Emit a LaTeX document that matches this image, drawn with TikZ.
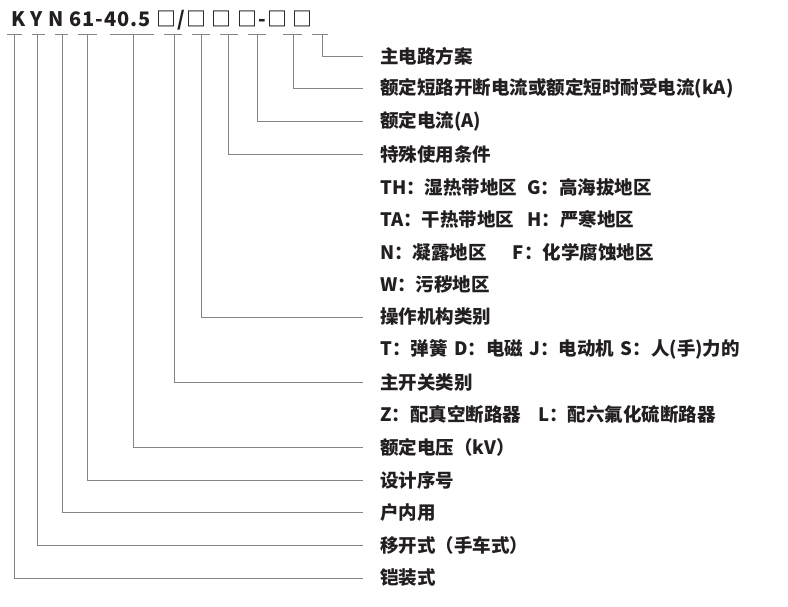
\documentclass[tikz,border=0pt]{standalone}
\usepackage{fontspec}
\setmainfont{Noto Sans CJK SC}
\newfontfamily\codefont{Noto Sans CJK SC}[LetterSpace=5]
\usetikzlibrary{positioning}
\definecolor{ctext}{HTML}{231F20}
\definecolor{cline}{HTML}{858585}
\tikzset{
  lab/.style={anchor=west, inner sep=0pt, text=ctext,
    font=\fontsize{18.5}{20}\selectfont\bfseries},
  code/.style={anchor=west, inner sep=0pt, text=ctext,
    font=\codefont\fontsize{20}{22}\selectfont\bfseries},
  uline/.style={draw=cline, line width=0.8pt},
  lead/.style={draw=cline, line width=0.8pt, shorten >=17pt},
}

\begin{document}
\begin{tikzpicture}[x=1pt, y=-1pt]
  \useasboundingbox (0,0) rectangle (788,607);

  % model code
  \node[code] (kyn) at (11,20) {K Y N 61-40.5 □/□ □ □-□ □};

  % tick points under the code
  \coordinate (u1) at (322,34); \coordinate (u2) at (293,34);
  \coordinate (u3) at (257,34); \coordinate (u4) at (228,34);
  \coordinate (u5) at (201,34); \coordinate (u6) at (174,34);
  \coordinate (u7) at (133,34); \coordinate (u8) at (87,34);
  \coordinate (u9) at (62,34);  \coordinate (u10) at (37,34);
  \coordinate (u11) at (14,34);

  \draw[uline] ([xshift=-10pt]u1) -- ([xshift=6pt]u1);
  \draw[uline] ([xshift=-10pt]u2) -- ([xshift=9pt]u2);
  \draw[uline] ([xshift=-9pt]u3) -- ([xshift=9pt]u3);
  \draw[uline] ([xshift=-8pt]u4) -- ([xshift=10pt]u4);
  \draw[uline] ([xshift=-9pt]u5) -- ([xshift=9pt]u5);
  \draw[uline] ([xshift=-10pt]u6) -- ([xshift=8pt]u6);
  \draw[uline] ([xshift=-23pt]u7) -- ([xshift=21pt]u7);
  \draw[uline] ([xshift=-9pt]u8) -- ([xshift=10pt]u8);
  \draw[uline] ([xshift=-7pt]u9) -- ([xshift=6pt]u9);
  \draw[uline] ([xshift=-5pt]u10) -- ([xshift=8pt]u10);
  \draw[uline] ([xshift=-7pt]u11) -- ([xshift=8pt]u11);

  % descriptions
  \node[lab] (l1) at (380,56) {主电路方案};
  \node[lab] (l2) at (380,88.6) {额定短路开断电流或额定短时耐受电流(kA)};
  \node[lab] (l3) at (380,121) {额定电流(A)};
  \node[lab] (l4) at (380,154) {特殊使用条件};
  \node[lab] (s1) at (380,187) {TH：湿热带地区\hspace{10pt}G：高海拔地区};
  \node[lab] (s2) at (380,219) {TA：干热带地区\hspace{13pt}H：严寒地区};
  \node[lab] (s3) at (380,252) {N：凝露地区\hspace{26pt}F：化学腐蚀地区};
  \node[lab] (s4) at (380,284) {W：污秽地区};
  \node[lab] (l5) at (380,317) {操作机构类别};
  \node[lab] (s5) at (380,349) {T：弹簧\hspace{6.5pt}D：电磁\hspace{6.5pt}J：电动机\hspace{6.5pt}S：人(手)力的};
  \node[lab] (l6) at (380,382) {主开关类别};
  \node[lab] (s6) at (380,414) {Z：配真空断路器\hspace{17pt}L：配六氟化硫断路器};
  \node[lab] (l7) at (380,447) {额定电压（kV）};
  \node[lab] (l8) at (380,480) {设计序号};
  \node[lab] (l9) at (380,512) {户内用};
  \node[lab] (l10) at (380,545) {移开式（手车式）};
  \node[lab] (l11) at (380,578) {铠装式};

  % leaders
  \draw[lead] (u1) |- (l1);  \draw[lead] (u2) |- (l2);
  \draw[lead] (u3) |- (l3);  \draw[lead] (u4) |- (l4);
  \draw[lead] (u5) |- (l5);  \draw[lead] (u6) |- (l6);
  \draw[lead] (u7) |- (l7);  \draw[lead] (u8) |- (l8);
  \draw[lead] (u9) |- (l9);  \draw[lead] (u10) |- (l10);
  \draw[lead] (u11) |- (l11);
\end{tikzpicture}
\end{document}
